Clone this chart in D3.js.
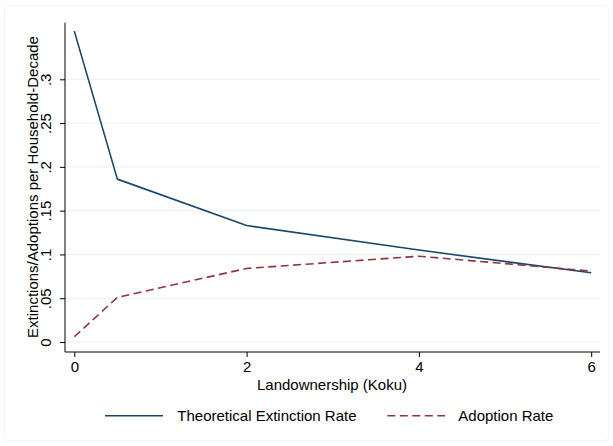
<!DOCTYPE html>
<html>
<head>
<meta charset="utf-8">
<script src="https://cdn.jsdelivr.net/npm/d3@7"></script>
<style>
  html, body { margin: 0; padding: 0; background: #fff; }
  svg { display: block; font-family: Arial, "Liberation Sans", sans-serif; }
</style>
</head>
<body>
<svg id="chart" width="613" height="446"></svg>
<script>
// Landownership (koku) at which each rate is evaluated
const koku = [0, 0.5, 2, 4, 6];
// Theoretical extinction rate per household-decade
const extinction = [0.355, 0.186, 0.133, 0.105, 0.079];
// Observed adoption rate per household-decade
const adoption = [0.006, 0.051, 0.084, 0.098, 0.081];

const xTicks = [0, 2, 4, 6];
const yTicks = [0, 0.05, 0.1, 0.15, 0.2, 0.25, 0.3];
const yTickLabels = ["0", ".05", ".1", ".15", ".2", ".25", ".3"];

const seriesNames = ["Theoretical Extinction Rate", "Adoption Rate"];
const xTitle = "Landownership (Koku)";
const yTitle = "Extinctions/Adoptions per Household-Decade";

const svg = d3.select("#chart");
const W = 613, H = 446;
const FS = 15;

// faint outer frame of the graph region
svg.append("rect")
  .attr("x", 4.5).attr("y", 5.5)
  .attr("width", W - 9).attr("height", H - 11)
  .attr("fill", "none").attr("stroke", "#f2f4f6").attr("rx", 3);

const plot = { left: 65, right: 600, top: 22.7, bottom: 352 };

const x = d3.scaleLinear().domain([0, 6]).range([74.3, 591.2]);
const y = d3.scaleLinear().domain([0, 0.3]).range([342, 79.3]);

const blue = "#1a476f";
const red = "#90353b";

// horizontal gridlines
svg.append("g")
  .selectAll("line")
  .data(yTicks)
  .join("line")
  .attr("x1", plot.left).attr("x2", plot.right)
  .attr("y1", d => y(d)).attr("y2", d => y(d))
  .attr("stroke", "#eaf2f3").attr("stroke-width", 1);

// y axis
const yAxis = d3.axisLeft(y)
  .tickValues(yTicks)
  .tickFormat((d, i) => yTickLabels[i])
  .tickSize(5)
  .tickPadding(3);

const gy = svg.append("g")
  .attr("transform", `translate(${plot.left},0)`)
  .call(yAxis);
gy.select(".domain").remove();
gy.append("line")
  .attr("x1", 0).attr("x2", 0)
  .attr("y1", plot.top).attr("y2", plot.bottom)
  .attr("stroke", "#000").attr("stroke-width", 1);
gy.selectAll(".tick line").attr("stroke", "#000");
gy.selectAll(".tick text")
  .attr("font-size", FS)
  .attr("fill", "#000")
  .attr("text-anchor", "middle")
  .attr("x", 0).attr("dy", 0)
  .attr("transform", "translate(-14,0) rotate(-90)")
  .attr("y", 0);

// x axis
const xAxis = d3.axisBottom(x)
  .tickValues(xTicks)
  .tickFormat(d3.format("d"))
  .tickSize(5)
  .tickPadding(4);

const gx = svg.append("g")
  .attr("transform", `translate(0,${plot.bottom})`)
  .call(xAxis);
gx.select(".domain").remove();
gx.append("line")
  .attr("x1", plot.left).attr("x2", plot.right)
  .attr("y1", 0).attr("y2", 0)
  .attr("stroke", "#000").attr("stroke-width", 1);
gx.selectAll(".tick line").attr("stroke", "#000");
gx.selectAll(".tick text").attr("font-size", FS).attr("fill", "#000");

// data lines
const line = (vals) => d3.line()
  .x((d, i) => x(koku[i]))
  .y(d => y(d))(vals);

svg.append("path")
  .attr("d", line(extinction))
  .attr("fill", "none")
  .attr("stroke", blue)
  .attr("stroke-width", 1.6)
  .attr("stroke-linejoin", "round");

svg.append("path")
  .attr("d", line(adoption))
  .attr("fill", "none")
  .attr("stroke", red)
  .attr("stroke-width", 1.6)
  .attr("stroke-dasharray", "8,4.5");

// axis titles
svg.append("text")
  .attr("x", 332).attr("y", 390)
  .attr("text-anchor", "middle")
  .attr("font-size", FS)
  .attr("fill", "#000")
  .text(xTitle);

svg.append("text")
  .attr("transform", "translate(38,187) rotate(-90)")
  .attr("text-anchor", "middle")
  .attr("font-size", FS)
  .attr("fill", "#000")
  .text(yTitle);

// legend
const legend = svg.append("g");
legend.append("line")
  .attr("x1", 105).attr("x2", 163)
  .attr("y1", 415.7).attr("y2", 415.7)
  .attr("stroke", blue).attr("stroke-width", 1.6);
legend.append("text")
  .attr("x", 177.3).attr("y", 421)
  .attr("font-size", FS).attr("fill", "#000")
  .text(seriesNames[0]);
legend.append("line")
  .attr("x1", 387.3).attr("x2", 445)
  .attr("y1", 415.7).attr("y2", 415.7)
  .attr("stroke", red).attr("stroke-width", 1.6)
  .attr("stroke-dasharray", "8,4.5");
legend.append("text")
  .attr("x", 458.3).attr("y", 421)
  .attr("font-size", FS).attr("fill", "#000")
  .text(seriesNames[1]);
</script>
</body>
</html>
